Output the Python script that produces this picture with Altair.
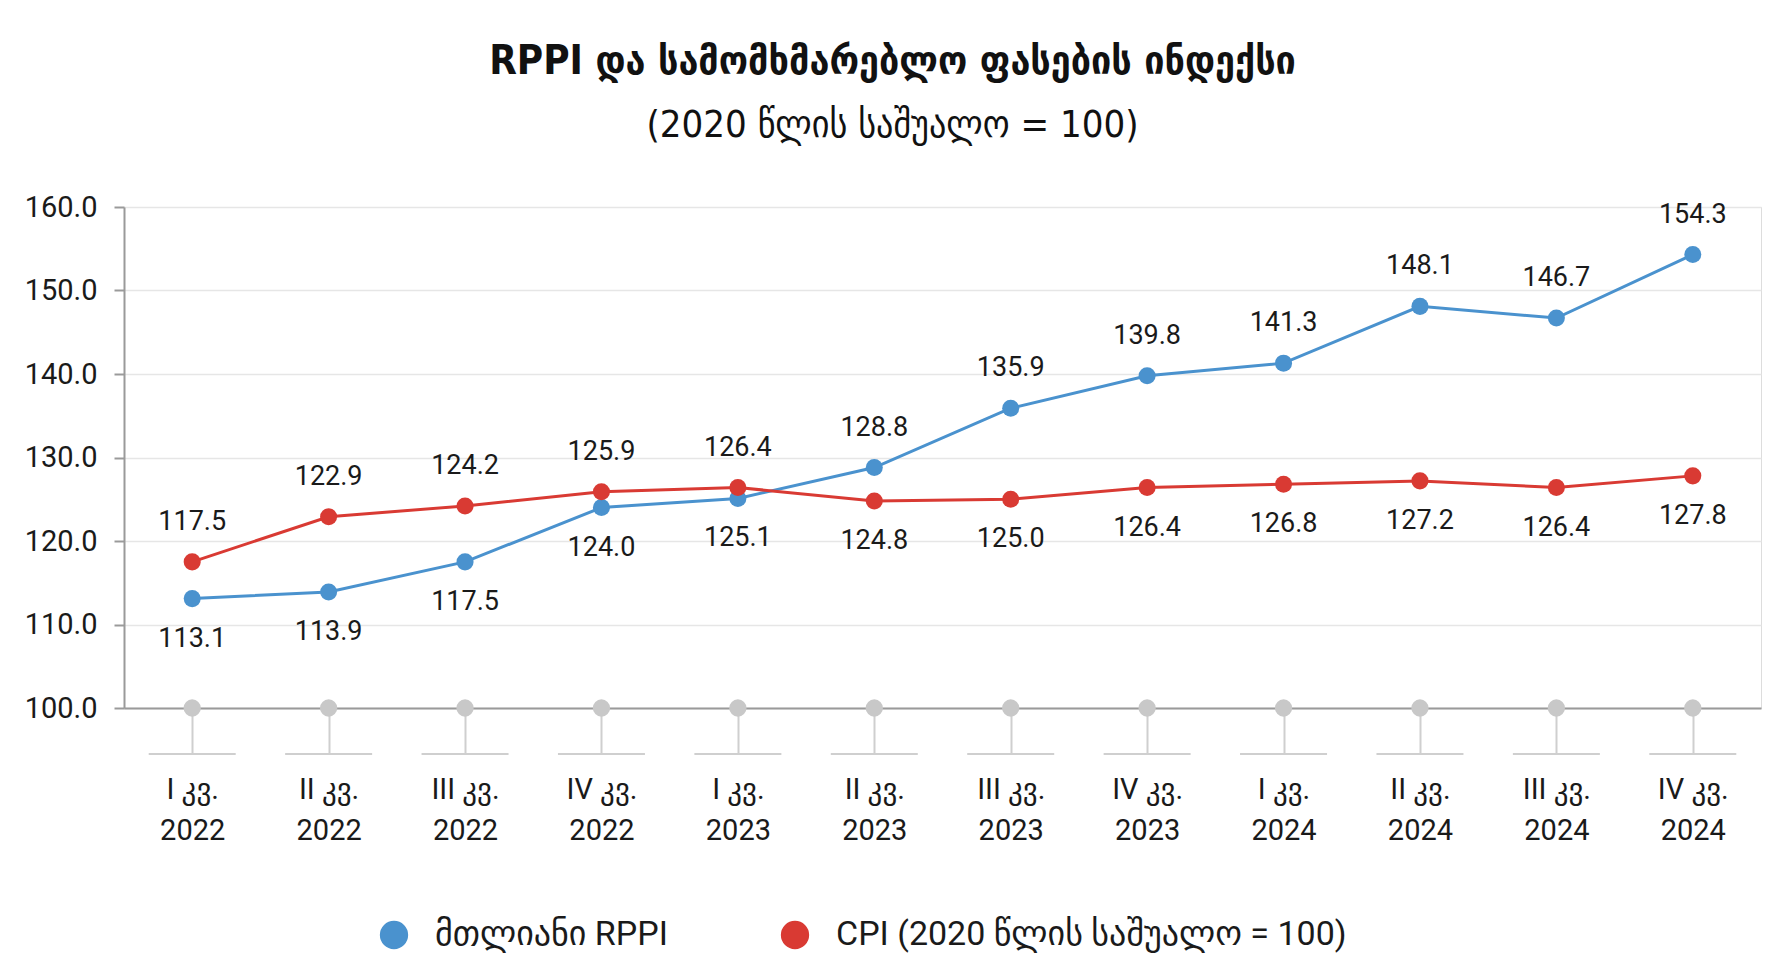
import altair as alt
import pandas as pd

categories = [
    "I კვ.|2022", "II კვ.|2022", "III კვ.|2022", "IV კვ.|2022",
    "I კვ.|2023", "II კვ.|2023", "III კვ.|2023", "IV კვ.|2023",
    "I კვ.|2024", "II კვ.|2024", "III კვ.|2024", "IV კვ.|2024",
]
rppi = [113.1, 113.9, 117.5, 124.0, 125.1, 128.8, 135.9, 139.8, 141.3, 148.1, 146.7, 154.3]
cpi = [117.5, 122.9, 124.2, 125.9, 126.4, 124.8, 125.0, 126.4, 126.8, 127.2, 126.4, 127.8]
baseline = [100.0, 100.0, 100.0, 100.0, 100.0, 100.0, 100.0, 100.0, 100.0, 100.0, 100.0, 100.0]

name_rppi = "მთლიანი RPPI"
name_cpi = "CPI (2020 წლის საშუალო = 100)"
title_main = "RPPI და სამომხმარებლო ფასების ინდექსი"
title_sub = "(2020 წლის საშუალო = 100)"

rows = []
for i, q in enumerate(categories):
    rows.append({"q": q, "series": name_rppi, "value": rppi[i], "above": rppi[i] >= cpi[i]})
    rows.append({"q": q, "series": name_cpi, "value": cpi[i], "above": cpi[i] > rppi[i]})
df = pd.DataFrame(rows)
base_df = pd.DataFrame({"q": categories, "value": baseline})

FONT = "Roboto, DejaVu Sans"
TXT = "#1a1a1a"
colors = alt.Scale(domain=[name_rppi, name_cpi], range=["#4A92CE", "#D93A33"])

legend = alt.Legend(
    orient="none", legendX=253, legendY=711, direction="horizontal",
    symbolType="circle", symbolSize=800, symbolStrokeWidth=0, symbolOpacity=1,
    labelFont=FONT, labelFontSize=34, labelColor=TXT, labelOffset=24,
    columnPadding=110, padding=0, labelLimit=900,
)
color_enc = alt.Color("series:N", scale=colors, title=None, legend=legend)

x_enc = alt.X(
    "q:N", sort=categories, title=None,
    scale=alt.Scale(type="point", padding=0.5),
    axis=alt.Axis(
        labelExpr="split(datum.label, '|')", labelAngle=0, labelFontSize=29,
        labelFont=FONT, labelColor=TXT, labelLineHeight=41, labelPadding=21,
        tickSize=46, tickColor="#cfcfcf", tickWidth=2,
        domainColor="#9a9a9a", domainWidth=2, grid=False,
    ),
)
y_scale = alt.Scale(domain=[100, 160], nice=False, zero=False)
y_enc = alt.Y(
    "value:Q", scale=y_scale, title=None,
    axis=alt.Axis(
        values=[100, 110, 120, 130, 140, 150, 160], format=".1f",
        labelFontSize=29, labelFont=FONT, labelColor=TXT, labelPadding=17,
        tickSize=10, tickColor="#9a9a9a", tickWidth=2,
        domainColor="#9a9a9a", domainWidth=2,
        gridColor="#e6e6e6", gridWidth=1.5,
    ),
)

base = alt.Chart(df)

lines = base.mark_line(strokeWidth=3).encode(x=x_enc, y=y_enc, color=color_enc)
points = base.mark_circle(size=290, opacity=1).encode(x=x_enc, y=y_enc, color=color_enc)
lab_above = base.transform_filter("datum.above").mark_text(
    dy=-40, baseline="middle", align="center", font=FONT, fontSize=27, color=TXT
).encode(x=x_enc, y=y_enc, text=alt.Text("value:Q", format=".1f"))
lab_below = base.transform_filter("!datum.above").mark_text(
    dy=40, baseline="middle", align="center", font=FONT, fontSize=27, color=TXT
).encode(x=x_enc, y=y_enc, text=alt.Text("value:Q", format=".1f"))

bchart = alt.Chart(base_df)
bars = bchart.mark_tick(yOffset=46, size=87, thickness=2, color="#cfcfcf", opacity=1).encode(
    x=x_enc, y=alt.Y("value:Q", scale=y_scale)
)
dots = bchart.mark_circle(size=300, color="#c8c8c8", opacity=1).encode(
    x=x_enc, y=alt.Y("value:Q", scale=y_scale)
)

chart = alt.layer(bars, dots, lines, points, lab_above, lab_below).properties(
    width=1637, height=501,
    padding={"left": 116, "top": 199, "right": 17, "bottom": 255},
    autosize=alt.AutoSizeParams(type="none"),
    title=alt.TitleParams(
        text=title_main, subtitle=title_sub, anchor="middle", dx=-50,
        font="DejaVu Sans Condensed, DejaVu Sans", fontSize=40, fontWeight="bold", color="#111111",
        subtitleFont="DejaVu Sans Condensed, DejaVu Sans", subtitleFontSize=38, subtitleColor="#111111",
        subtitlePadding=25, offset=48,
    ),
).configure_view(stroke=None).configure(background="white")

chart.save("out.html", embed_options={"renderer": "svg", "actions": False})
